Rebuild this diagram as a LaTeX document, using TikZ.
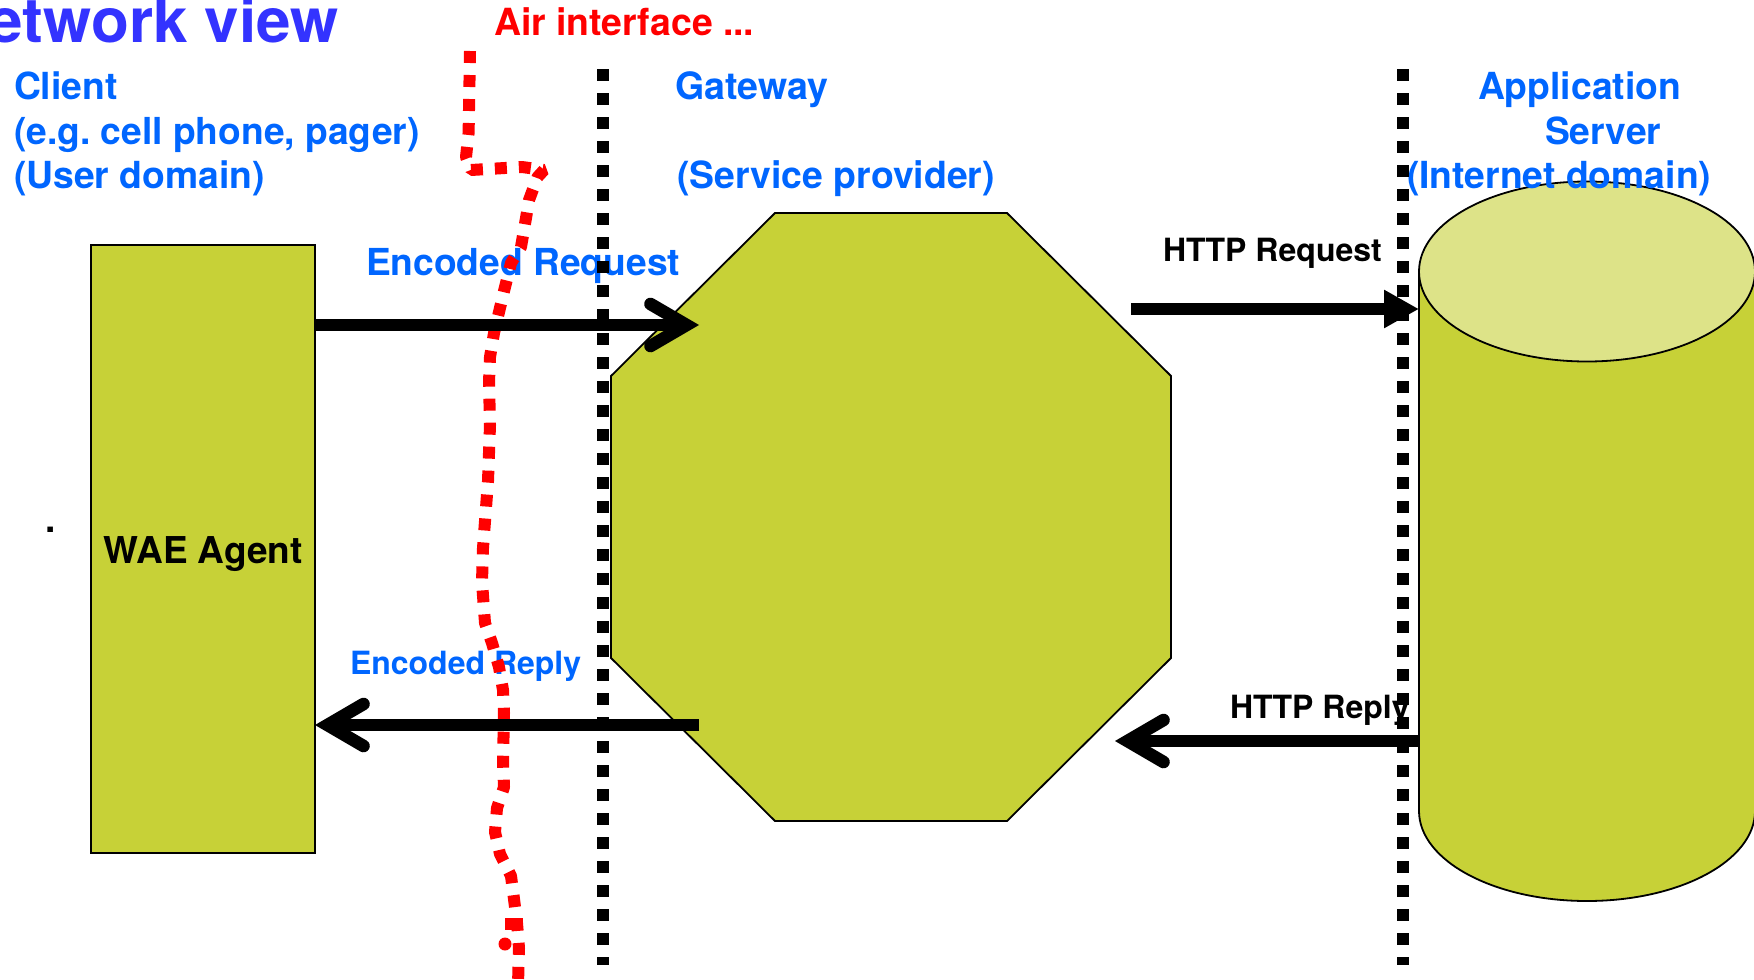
\documentclass[tikz,border=0pt]{standalone}
\usepackage{fontspec}
\setmainfont{TeX Gyre Heros}[BoldFont=* Bold]
\usetikzlibrary{arrows.meta}
\definecolor{olive}{HTML}{C7D137}
\definecolor{olivelight}{HTML}{DDE388}
\definecolor{bluetxt}{HTML}{0066FF}
\definecolor{titleblue}{HTML}{3333FF}
\tikzset{
  shapebox/.style={draw=black,fill=olive,line width=1.8pt},
  lbl/.style={inner sep=0pt,outer sep=0pt,anchor=base west,font=\bfseries\frenchspacing\fontsize{#1}{#1}\selectfont},
  bluelbl/.style={lbl=#1,text=bluetxt},
  domainline/.style={line width=12pt,dash pattern=on 12pt off 12pt,line cap=butt},
  airline/.style={draw=red,line width=12pt,dash pattern=on 12pt off 12pt,line join=bevel},
  flow/.style={line width=12.6pt,draw=black},
  barbtip/.style={flow,-{Straight Barb[length=36pt,width=42pt,line width=12.6pt,line cap=round,line join=miter]}},
  tritip/.style={flow,-{Triangle[length=35pt,width=36pt]}}
}
\begin{document}
\begin{tikzpicture}[x=1pt,y=-1pt]
\useasboundingbox (0,0) rectangle (1754,980);
\clip (0,0) rectangle (1754,980);
% shapes
\node[shapebox,minimum width=224pt,minimum height=608pt,inner sep=0pt,outer sep=0pt] (agent) at (203,549) {};
\draw[shapebox] (775,213) -- (1007,213) -- (1171,376) -- (1171,658) -- (1007,821) -- (775,821) -- (611,658) -- (611,376) -- cycle;
\draw[shapebox] (1419,271) -- (1419,811) arc[start angle=180,end angle=360,x radius=168pt,y radius=90pt] -- (1755,271) -- cycle;
\draw[shapebox,fill=olivelight] (1587,271.5) ellipse [x radius=168pt,y radius=90pt];
% coordinates on the shapes
\coordinate (agentReq) at (315,325);
\coordinate (agentRep) at (315,725);
\coordinate (gwReq) at (699,325);
\coordinate (gwRep) at (699,725);
\coordinate (gwHttpOut) at (1131,309);
\coordinate (gwHttpIn) at (1115,741);
\coordinate (srvIn) at (1419,309);
\coordinate (srvOut) at (1419,741);
\coordinate (d1a) at (603,69);
\coordinate (d1b) at (603,965);
\coordinate (d2a) at (1403,69);
\coordinate (d2b) at (1403,965);
% labels
\node[lbl=62,text=titleblue,anchor=base east] (title) at (339,42) {etwork view};
\node[lbl=37.4,text=red] (air) at (494,35) {Air interface ...};
\node[bluelbl=37.3] (c1) at (14,99) {Client};
\node[bluelbl=37.2] (c2) at (14,144) {(e.g. cell phone, pager)};
\node[bluelbl=37.3] (c3) at (14,188) {(User domain)};
\node[bluelbl=37.6] (g1) at (675,99) {Gateway};
\node[bluelbl=37.4] (g2) at (677,188) {(Service provider)};
\node[bluelbl=37.3] (s1) at (1478,99) {Application};
\node[bluelbl=37.3] (s2) at (1545,144) {Server};
\node[bluelbl=37.3] (s3) at (1407,188) {(Internet domain)};
\node[bluelbl=37.2] (lreq) at (366,275) {Encoded Request};
\node[bluelbl=32] (lrep) at (350,674.5) {Encoded Reply};
\node[lbl=32] (hreq) at (1163,261) {HTTP Request};
\node[lbl=32] (hrep) at (1230,718) {HTTP Reply};
\node[lbl=37,anchor=base] (wae) at (203,563) {WAE Agent};
\node[lbl=37,anchor=base] (dot) at (50.5,532) {.};
% domain boundaries
\draw[domainline] (d1a) -- (d1b);
\draw[domainline] (d2a) -- (d2b);
% air interface
\draw[airline] (470,51) -- (468.6,133) -- (466,157) -- (471,170) -- (522,167) -- (544,170) -- (537.6,177) -- (529,200) -- (526,218) -- (521,247) -- (511,263) -- (505,287) -- (499.5,310) -- (494,333) -- (490,357) -- (489,382) -- (490,425) -- (488,481) -- (483,548) -- (482,582) -- (485,623) -- (492,643) -- (499,667) -- (503,690) -- (504,713) -- (503,762) -- (504,787) -- (497,808) -- (495,832) -- (500,854) -- (511,876) -- (514,899) -- (517,923) -- (519,948) -- (518,985);
\fill[red] (505,918) rectangle (523,930);
\fill[red] (505,944) circle[radius=6.5pt];
% flows
\draw[barbtip] (agentReq) -- (gwReq);
\draw[barbtip] (gwRep) -- (agentRep);
\draw[tritip] (gwHttpOut) -- (srvIn);
\draw[barbtip] (srvOut) -- (gwHttpIn);
\end{tikzpicture}
\end{document}
